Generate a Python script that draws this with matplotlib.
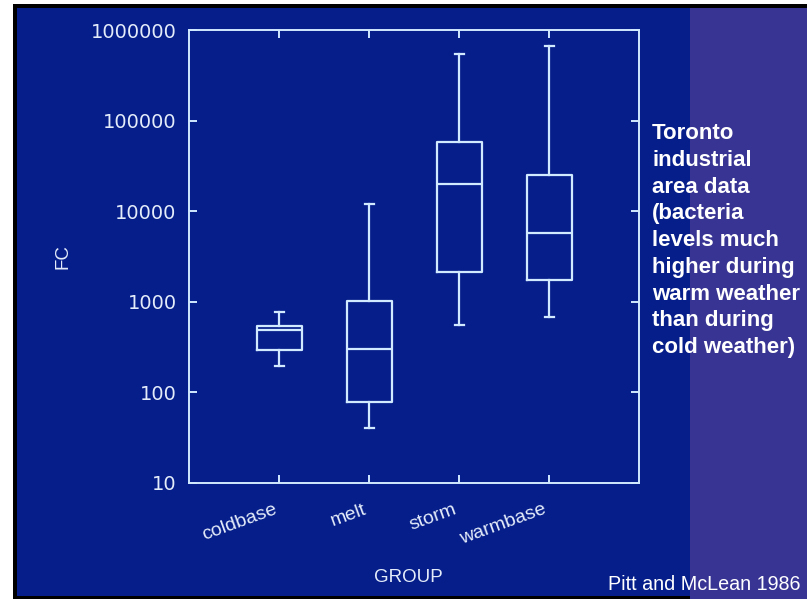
import matplotlib
matplotlib.use('Agg')
import matplotlib.pyplot as plt
from matplotlib.patches import Rectangle

# ---- data ----
groups = ['coldbase', 'melt', 'storm', 'warmbase']
whislo = [197, 40, 560, 680]
q1 = [296, 79, 2120, 1750]
med = [492, 303, 20000, 5780]
q3 = [546, 1030, 57700, 25300]
whishi = [780, 12100, 538000, 670000]
yticks = [10, 100, 1000, 10000, 100000, 1000000]
ytick_labels = ['10', '100', '1000', '10000', '100000', '1000000']
side_note = ("Toronto\nindustrial\narea data\n(bacteria\nlevels much\n"
             "higher during\nwarm weather\nthan during\ncold weather)")
credit = "Pitt and McLean 1986"

# ---- style ----
BLUE = '#051e8a'
PURPLE = '#383494'
LINE = '#d2eaff'
TEXT = '#e4ecfa'
FONT = 'Liberation Sans'

W, H = 807, 599
fig = plt.figure(figsize=(W / 100, H / 100), dpi=100, facecolor='white')


def rect(x0, y0, x1, y1, color):
    return Rectangle((x0 / W, 1 - y1 / H), (x1 - x0) / W, (y1 - y0) / H,
                     transform=fig.transFigure, facecolor=color,
                     edgecolor='none', zorder=-10)


fig.patches.extend([
    rect(13, 4, 807, 599, 'black'),
    rect(17, 8, 807, 596, BLUE),
    rect(690, 8, 807, 599, PURPLE),
])

L, R, T, B = 189, 639, 30, 483
ax = fig.add_axes([L / W, 1 - B / H, (R - L) / W, (B - T) / H])
ax.set_facecolor('none')

stats = [dict(label=g, whislo=a, q1=b, med=c, q3=d, whishi=e, fliers=[])
         for g, a, b, c, d, e in zip(groups, whislo, q1, med, q3, whishi)]
lp = dict(color=LINE, linewidth=1.6)
ax.bxp(stats, positions=[1, 2, 3, 4], widths=0.5, capwidths=0.1,
       showfliers=False, boxprops=lp, whiskerprops=lp, capprops=lp,
       medianprops=lp)

ax.set_yscale('log')
ax.set_ylim(10, 1e6)
ax.set_xlim(0, 5)
ax.set_yticks(yticks)
ax.set_yticklabels(ytick_labels)
ax.minorticks_off()
ax.set_xticks([1, 2, 3, 4])
ax.set_xticklabels(groups, rotation=20, ha='right', va='top')

for s in ax.spines.values():
    s.set_color(LINE)
    s.set_linewidth(1.4)

ax.tick_params(axis='both', which='major', direction='in', length=6,
               width=1.4, color=LINE, top=True, right=True,
               labelcolor=TEXT)
ax.tick_params(axis='y', pad=9, labelsize=14)
ax.tick_params(axis='x', pad=13, labelsize=14)
for lab in ax.get_yticklabels():
    lab.set_fontfamily('DejaVu Sans')
for lab in ax.get_xticklabels():
    lab.set_fontfamily(FONT)

ax.set_xlabel('GROUP', fontsize=13.5, color=TEXT, fontfamily=FONT)
ax.xaxis.set_label_coords(0.487, -0.19)
ax.set_ylabel('FC', fontsize=13.5, color=TEXT, fontfamily=FONT)
ax.yaxis.set_label_coords(-0.262, 0.5)

fig.text(652 / W, 1 - 123 / H, side_note, ha='left', va='top',
         fontsize=16, fontweight='bold', color='white', fontfamily=FONT,
         linespacing=1.36)
fig.text(608 / W, 1 - 585 / H, credit, ha='left', va='center',
         fontsize=14.2, color='white', fontfamily=FONT)

fig.savefig('out.png', dpi=100, facecolor='white')
